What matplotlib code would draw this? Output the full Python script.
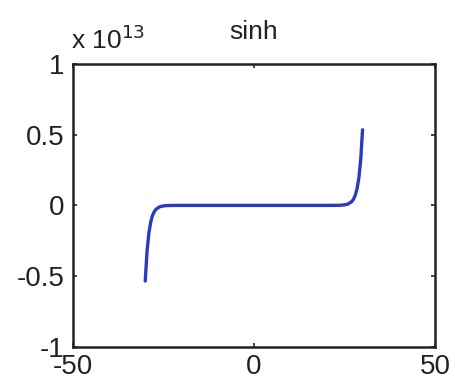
import matplotlib.pyplot as plt

plt.rcParams['font.family'] = ['Liberation Sans', 'DejaVu Sans']

# sample points of the curve, y in units of 1e13
x_vals = [-30, -29.5, -29, -28.5, -28, -27.5, -27, -26, -25, -24, -23, -22, -20,
          0,
          20, 22, 23, 24, 25, 26, 27, 27.5, 28, 28.5, 29, 29.5, 30]
y_vals = [-0.5343, -0.3241, -0.1966, -0.1192, -0.0723, -0.0439, -0.0266, -0.0098,
          -0.0036, -0.0013, -0.0005, -0.0002, 0.0,
          0.0,
          0.0, 0.0002, 0.0005, 0.0013, 0.0036, 0.0098, 0.0266, 0.0439, 0.0723,
          0.1192, 0.1966, 0.3241, 0.5343]
x_ticks = [-50, 0, 50]
y_ticks = [-1, -0.5, 0, 0.5, 1]
y_labels = ['-1', '-0.5', '0', '0.5', '1']

fig = plt.figure(figsize=(4.55, 3.85), dpi=100)
# axes box: x 73..435 px, y 64..347 px
ax = fig.add_axes([0.160, 0.099, 0.796, 0.735])

ax.plot(x_vals, y_vals, color='#2a3bbf', linewidth=2.4, solid_capstyle='round')

ax.set_xlim(-50, 50)
ax.set_ylim(-1, 1)
ax.set_xticks(x_ticks)
ax.set_xticklabels([str(t) for t in x_ticks])
ax.set_yticks(y_ticks)
ax.set_yticklabels(y_labels)
ax.tick_params(direction='in', length=3, width=1.2, top=True, right=True,
               labelsize=20, colors='#222222')
ax.tick_params(axis='y', pad=6)
ax.tick_params(axis='x', pad=5)
for s in ax.spines.values():
    s.set_linewidth(1.8)
    s.set_color('#222222')

ax.set_title('sinh', fontsize=19, pad=18, color='#222222')
ax.text(-0.005, 1.035, r'x 10$^{13}$', transform=ax.transAxes, fontsize=19,
        ha='left', va='bottom', color='#222222')

fig.savefig('out.png', dpi=100)
